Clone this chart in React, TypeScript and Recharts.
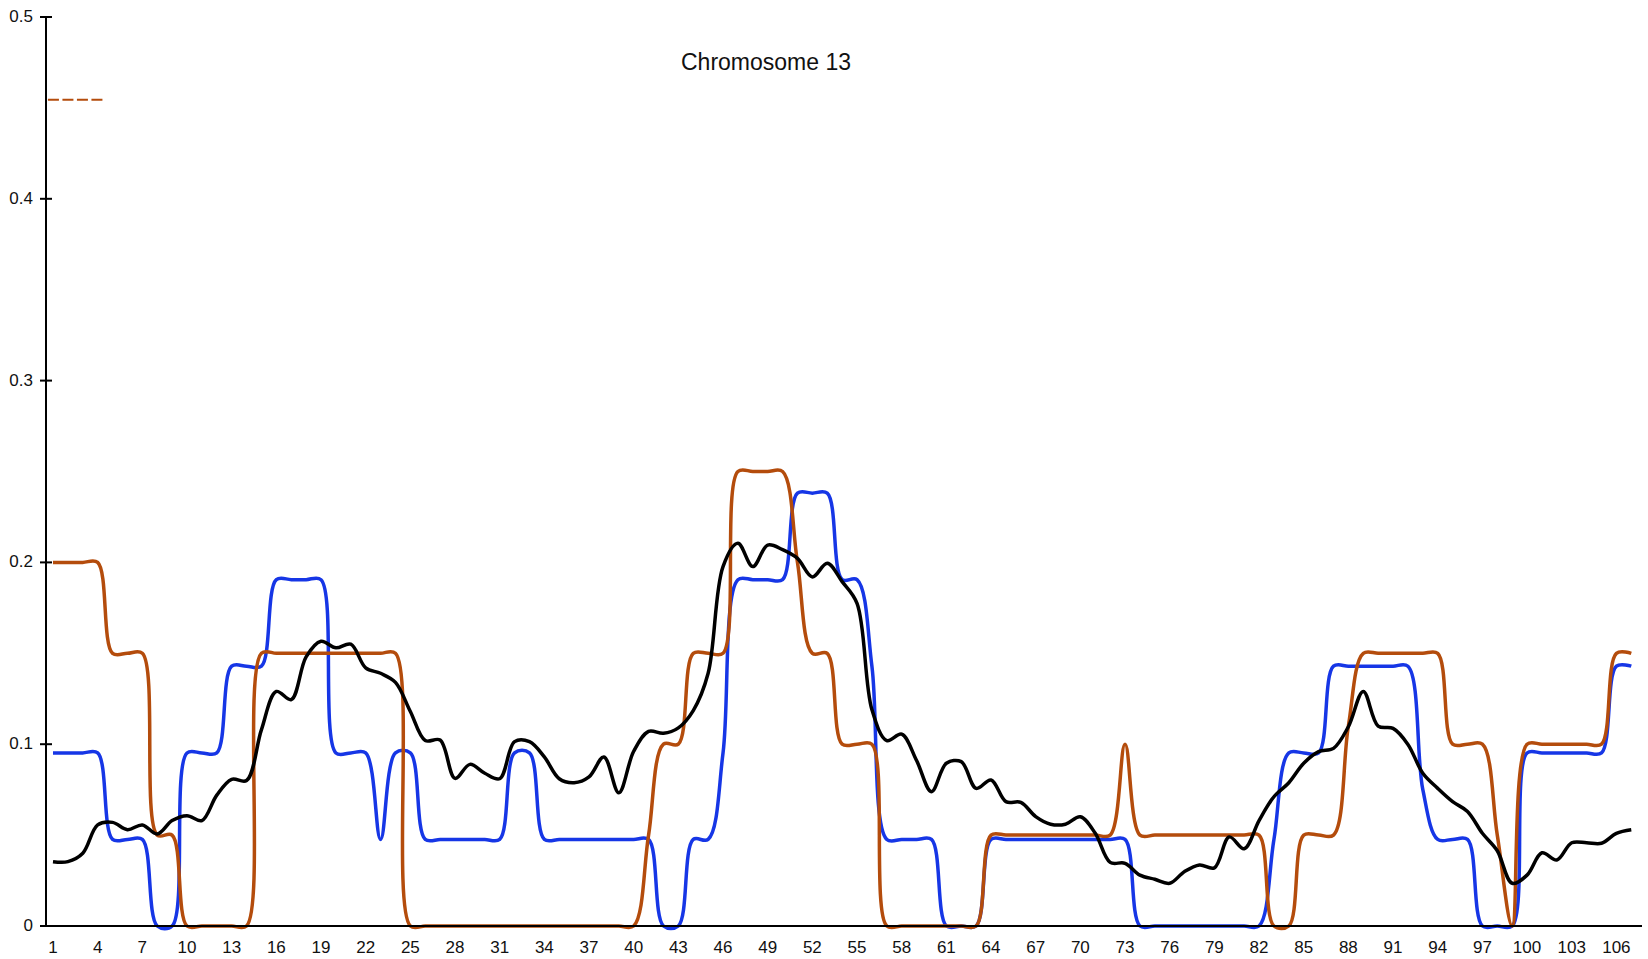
import React from "react";
import { LineChart, Line, XAxis, YAxis, ReferenceLine } from "recharts";

// position along chromosome 13 (1..107)
const X_TICKS = [1, 4, 7, 10, 13, 16, 19, 22, 25, 28, 31, 34, 37, 40, 43, 46, 49, 52, 55, 58, 61, 64, 67, 70, 73, 76, 79, 82, 85, 88, 91, 94, 97, 100, 103, 106];
const Y_TICKS = [0, 0.1, 0.2, 0.3, 0.4, 0.5];

const BLUE = [
  0.0952, 0.0952, 0.0952, 0.0952, 0.0476, 0.0476, 0.0476, 0, 0, 0.0952,
  0.0952, 0.0952, 0.1429, 0.1429, 0.1429, 0.1905, 0.1905, 0.1905, 0.1905, 0.0952,
  0.0952, 0.0952, 0.0476, 0.0952, 0.0952, 0.0476, 0.0476, 0.0476, 0.0476, 0.0476,
  0.0476, 0.0952, 0.0952, 0.0476, 0.0476, 0.0476, 0.0476, 0.0476, 0.0476, 0.0476,
  0.0476, 0, 0, 0.0476, 0.0476, 0.0952, 0.1905, 0.1905, 0.1905, 0.1905,
  0.2381, 0.2381, 0.2381, 0.1905, 0.1905, 0.1429, 0.0476, 0.0476, 0.0476, 0.0476,
  0, 0, 0, 0.0476, 0.0476, 0.0476, 0.0476, 0.0476, 0.0476, 0.0476,
  0.0476, 0.0476, 0.0476, 0, 0, 0, 0, 0, 0, 0,
  0, 0, 0.0476, 0.0952, 0.0952, 0.0952, 0.1429, 0.1429, 0.1429, 0.1429,
  0.1429, 0.1429, 0.075, 0.0476, 0.0476, 0.0476, 0, 0, 0, 0.0952,
  0.0952, 0.0952, 0.0952, 0.0952, 0.0952, 0.1429, 0.1429,
];

const ORANGE = [
  0.2, 0.2, 0.2, 0.2, 0.15, 0.15, 0.15, 0.05, 0.05, 0,
  0, 0, 0, 0, 0.15, 0.15, 0.15, 0.15, 0.15, 0.15,
  0.15, 0.15, 0.15, 0.15, 0, 0, 0, 0, 0, 0,
  0, 0, 0, 0, 0, 0, 0, 0, 0, 0,
  0.05, 0.1, 0.1, 0.15, 0.15, 0.15, 0.25, 0.25, 0.25, 0.25,
  0.2, 0.15, 0.15, 0.1, 0.1, 0.1, 0, 0, 0, 0,
  0, 0, 0, 0.05, 0.05, 0.05, 0.05, 0.05, 0.05, 0.05,
  0.05, 0.05, 0.1, 0.05, 0.05, 0.05, 0.05, 0.05, 0.05, 0.05,
  0.05, 0.05, 0, 0, 0.05, 0.05, 0.05, 0.11, 0.15, 0.15,
  0.15, 0.15, 0.15, 0.15, 0.1, 0.1, 0.1, 0.05, 0, 0.1,
  0.1, 0.1, 0.1, 0.1, 0.1, 0.15, 0.15,
];

const BLACK = [
  0.0354, 0.0354, 0.04, 0.0556, 0.057, 0.053, 0.0556, 0.0506, 0.058, 0.0607,
  0.058, 0.072, 0.0807, 0.08, 0.108, 0.129, 0.1245, 0.148, 0.1566, 0.153,
  0.155, 0.142, 0.139, 0.134, 0.118, 0.102, 0.1023, 0.0812, 0.0889, 0.084,
  0.081, 0.1014, 0.1014, 0.093, 0.081, 0.0788, 0.082, 0.093, 0.0733, 0.0961,
  0.107, 0.106, 0.109, 0.1185, 0.139, 0.1977, 0.2105, 0.1977, 0.2095, 0.207,
  0.2022, 0.192, 0.1995, 0.1894, 0.1775, 0.119, 0.102, 0.1055, 0.091, 0.0739,
  0.0895, 0.0904, 0.0757, 0.0803, 0.0684, 0.068, 0.0602, 0.056, 0.056, 0.0601,
  0.051, 0.035, 0.0345, 0.028, 0.0257, 0.0235, 0.03, 0.0336, 0.032, 0.049,
  0.0425, 0.058, 0.0711, 0.0788, 0.0895, 0.0959, 0.0977, 0.1096, 0.129, 0.11,
  0.1087, 0.0999, 0.084, 0.0757, 0.0684, 0.063, 0.051, 0.0414, 0.0235, 0.028,
  0.0403, 0.0363, 0.0458, 0.0458, 0.0455, 0.051, 0.053,
];

// dashed marker at top left
const THRESHOLD = 0.4545;
const THRESHOLD_SPAN = [0.66, 4.5];

const BLUE_COLOR = "#1636e6";
const ORANGE_COLOR = "#b44c0c";
const FONT = "'Liberation Sans', Arial, Helvetica, sans-serif";

const rows = BLUE.map((b, i) => ({
  pos: i + 1,
  blue: b,
  orange: ORANGE[i],
  black: BLACK[i],
}));

// centripetal catmull-rom (same maths as d3 curveCatmullRom, alpha 0.5)
class CatmullRom {
  ctx: any;
  alpha: number;
  _line = NaN;
  _point = 0;
  _x0 = NaN; _x1 = NaN; _x2 = NaN;
  _y0 = NaN; _y1 = NaN; _y2 = NaN;
  _l01_a = 0; _l12_a = 0; _l23_a = 0;
  _l01_2a = 0; _l12_2a = 0; _l23_2a = 0;

  constructor(ctx: any, alpha: number) {
    this.ctx = ctx;
    this.alpha = alpha;
  }
  areaStart() { this._line = 0; }
  areaEnd() { this._line = NaN; }
  lineStart() {
    this._x0 = this._x1 = this._x2 = this._y0 = this._y1 = this._y2 = NaN;
    this._l01_a = this._l12_a = this._l23_a = this._l01_2a = this._l12_2a = this._l23_2a = 0;
    this._point = 0;
  }
  lineEnd() {
    switch (this._point) {
      case 2: this.ctx.lineTo(this._x2, this._y2); break;
      case 3: this.point(this._x2, this._y2); break;
    }
    if (this._line || (this._line !== 0 && this._point === 1)) this.ctx.closePath();
    this._line = 1 - this._line;
  }
  seg(x: number, y: number) {
    let x1 = this._x1, y1 = this._y1, x2 = this._x2, y2 = this._y2;
    if (this._l01_a > 1e-12) {
      const a = 2 * this._l01_2a + 3 * this._l01_a * this._l12_a + this._l12_2a;
      const n = 3 * this._l01_a * (this._l01_a + this._l12_a);
      x1 = (x1 * a - this._x0 * this._l12_2a + this._x2 * this._l01_2a) / n;
      y1 = (y1 * a - this._y0 * this._l12_2a + this._y2 * this._l01_2a) / n;
    }
    if (this._l23_a > 1e-12) {
      const b = 2 * this._l23_2a + 3 * this._l23_a * this._l12_a + this._l12_2a;
      const m = 3 * this._l23_a * (this._l23_a + this._l12_a);
      x2 = (x2 * b + this._x1 * this._l23_2a - x * this._l12_2a) / m;
      y2 = (y2 * b + this._y1 * this._l23_2a - y * this._l12_2a) / m;
    }
    this.ctx.bezierCurveTo(x1, y1, x2, y2, this._x2, this._y2);
  }
  point(x: number, y: number) {
    x = +x; y = +y;
    if (this._point) {
      const x23 = this._x2 - x, y23 = this._y2 - y;
      this._l23_2a = Math.pow(x23 * x23 + y23 * y23, this.alpha);
      this._l23_a = Math.sqrt(this._l23_2a);
    }
    switch (this._point) {
      case 0:
        this._point = 1;
        if (this._line) this.ctx.lineTo(x, y); else this.ctx.moveTo(x, y);
        break;
      case 1: this._point = 2; break;
      case 2: this._point = 3; this.seg(x, y); break;
      default: this.seg(x, y); break;
    }
    this._l01_a = this._l12_a; this._l12_a = this._l23_a;
    this._l01_2a = this._l12_2a; this._l12_2a = this._l23_2a;
    this._x0 = this._x1; this._x1 = this._x2; this._x2 = x;
    this._y0 = this._y1; this._y1 = this._y2; this._y2 = y;
  }
}

const smooth: any = (ctx: any) => new CatmullRom(ctx, 0.5);

const XTick = (props: any) => {
  const { x, payload } = props;
  return (
    <text x={x} y={953} textAnchor="middle" fontSize={17} fontFamily={FONT} fill="#111">
      {payload.value}
    </text>
  );
};

const YTick = (props: any) => {
  const { y, payload } = props;
  return (
    <g>
      <line x1={40} x2={52} y1={y} y2={y} stroke="#000" strokeWidth={2} />
      <text x={33} y={y + 5} textAnchor="end" fontSize={17} fontFamily={FONT} fill="#111">
        {payload.value}
      </text>
    </g>
  );
};

export default function App() {
  return (
    <div style={{ position: "absolute", left: 0, top: 0, width: 1648, height: 959, background: "#fff" }}>
      <div
        style={{
          position: "absolute",
          left: 766,
          top: 51,
          transform: "translateX(-50%)",
          fontFamily: FONT,
          fontSize: 23,
          lineHeight: "23px",
          color: "#111",
          whiteSpace: "nowrap",
        }}
      >
        Chromosome 13
      </div>
      <LineChart width={1648} height={959} data={rows} margin={{ top: 17, right: 6, bottom: 0, left: 0 }}>
        <XAxis
          type="number"
          dataKey="pos"
          domain={[0.53, 107.72]}
          ticks={X_TICKS}
          interval={0}
          allowDataOverflow
          height={33}
          tickLine={false}
          axisLine={{ stroke: "#000", strokeWidth: 2 }}
          tick={<XTick />}
        />
        <YAxis
          type="number"
          domain={[0, 0.5]}
          ticks={Y_TICKS}
          interval={0}
          width={46}
          tickLine={false}
          axisLine={{ stroke: "#000", strokeWidth: 2 }}
          tick={<YTick />}
        />
        <ReferenceLine
          segment={[
            { x: THRESHOLD_SPAN[0], y: THRESHOLD },
            { x: THRESHOLD_SPAN[1], y: THRESHOLD },
          ]}
          stroke={ORANGE_COLOR}
          strokeWidth={2}
          strokeDasharray="11 3.5"
        />
        <Line dataKey="blue" type={smooth} stroke={BLUE_COLOR} strokeWidth={3.5} dot={false} activeDot={false} isAnimationActive={false} />
        <Line dataKey="orange" type={smooth} stroke={ORANGE_COLOR} strokeWidth={3.5} dot={false} activeDot={false} isAnimationActive={false} />
        <Line dataKey="black" type={smooth} stroke="#000" strokeWidth={3.5} dot={false} activeDot={false} isAnimationActive={false} />
      </LineChart>
    </div>
  );
}
